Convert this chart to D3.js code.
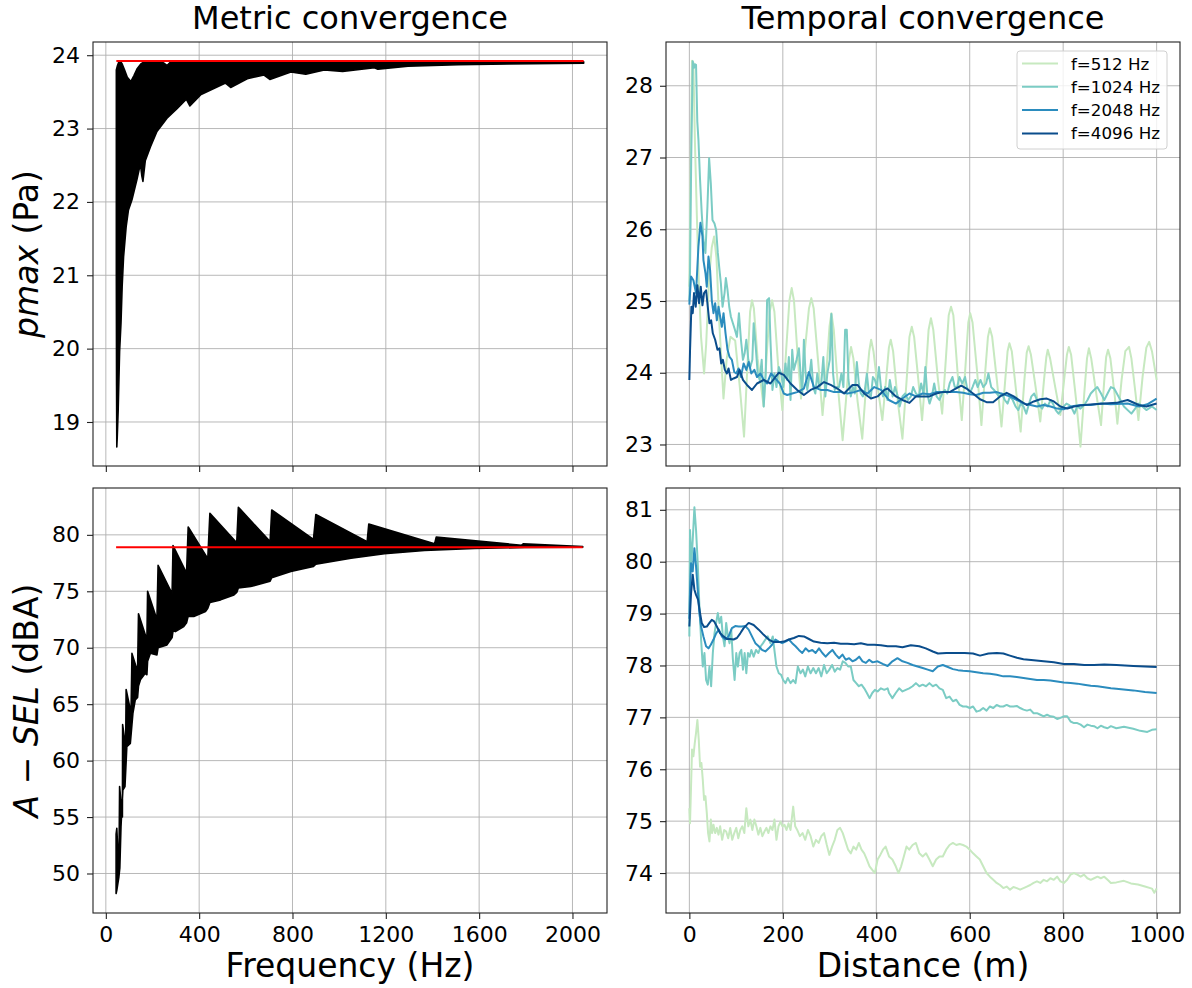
<!DOCTYPE html>
<html>
<head>
<meta charset="utf-8">
<script src="https://cdn.jsdelivr.net/npm/d3@7"></script>
<style>
  body { margin: 0; background: #fff; }
  svg { display: block; }
</style>
</head>
<body>
<script>
// ---- data ----
// left column: the dense oscillating curve, kept as its upper / lower envelope [Hz, value]
const pmaxUpper = [[45,23.80],[50,23.86],[56,23.91],[62,23.92],[70,23.88],[80,23.80],[92,23.70],[107,23.64],[120,23.72],[135,23.82],[150,23.88],[169,23.92],[230,23.92],[250,23.89],[262,23.86],[275,23.90],[300,23.92],[700,23.92],[1400,23.915],[2048,23.91]];
const pmaxLower = [[45,21.0],[46,19.5],[47,18.66],[49,18.8],[53,19.17],[59,19.96],[65,20.35],[70,20.85],[76,21.25],[87,21.66],[97,21.89],[112,22.03],[133,22.30],[148,22.52],[154,22.36],[159,22.28],[169,22.56],[191,22.75],[219,22.96],[262,23.14],[305,23.27],[345,23.40],[360,23.31],[406,23.46],[513,23.62],[535,23.56],[606,23.68],[678,23.73],[703,23.67],[793,23.77],[857,23.74],[936,23.80],[1015,23.78],[1151,23.83],[1166,23.81],[1295,23.85],[1510,23.87],[1725,23.88],[2048,23.89]];
const pmaxTarget = 23.92;

const selUpper = [[44,53.5],[47,54.0],[56,50.0],[59,57.7],[71,55.0],[72,63.2],[85,61.2],[87,66.3],[108,64.2],[112,69.5],[136,67.9],[140,73.0],[176,70.7],[179,75.0],[219,72.5],[224,77.3],[284,74.8],[288,79.05],[346,76.6],[353,80.7],[437,77.9],[446,81.9],[561,79.3],[568,82.45],[704,79.4],[711,82.2],[890,79.6],[900,81.8],[1120,79.4],[1127,80.95],[1409,79.2],[1416,79.8],[1782,79.08],[1789,79.2],[2044,78.97]];
const selLower = [[44,48.23],[47,48.5],[56,49.71],[60,50.5],[65,54.14],[73,57.39],[82,57.69],[90,61.24],[105,61.53],[116,64.19],[126,65.37],[136,65.6],[140,66.6],[148,67.15],[169,67.74],[176,67.6],[179,68.8],[191,69.51],[219,69.36],[224,70.0],[262,70.25],[284,70.9],[288,71.5],[298,71.43],[334,71.87],[346,72.2],[353,72.8],[377,72.76],[427,73.20],[437,73.5],[446,74.0],[492,74.24],[549,74.68],[561,74.9],[568,75.3],[621,75.42],[704,75.9],[711,76.2],[793,76.75],[890,77.2],[900,77.4],[1051,77.93],[1194,78.32],[1366,78.61],[1581,78.79],[1796,78.88],[2044,78.91]];
const selTarget = 78.9;

// right column: [distance m, value]
const freqLabels = ["f=512 Hz", "f=1024 Hz", "f=2048 Hz", "f=4096 Hz"];

const pmax512 = [[0,25.2],[3,27.0],[5.7,28.35],[8.6,28.32],[12,27.2],[16,26.2],[20,25.3],[25,24.5],[31.5,23.99],[36,24.4],[42,25.3],[48,25.75],[53,25.9],[58,25.6],[64,24.7],[73,23.64],[80,24.2],[88,24.5],[98,24.45],[108,23.8],[117,23.11],[125,24.2],[130,24.85],[134,25.01],[138,24.9],[146,24.2],[159,23.53],[166,24.3],[172,24.85],[177,25.01],[182,24.85],[190,24.1],[199,23.48],[207,24.3],[214,25.0],[219,25.18],[224,25.0],[231,24.3],[239,23.64],[247,24.3],[256,24.9],[261,25.04],[266,24.9],[275,24.2],[285,23.41],[293,24.0],[300,24.65],[304,24.83],[309,24.6],[318,23.8],[328,23.06],[335,23.6],[342,24.2],[346,24.36],[351,24.2],[360,23.6],[370,23.08],[378,23.8],[385,24.3],[389,24.46],[394,24.3],[403,23.8],[413,23.34],[421,23.9],[427,24.35],[431,24.46],[436,24.3],[446,23.6],[456,23.08],[465,23.9],[471,24.5],[476,24.64],[481,24.5],[490,23.9],[498,23.34],[506,24.0],[512,24.6],[517,24.76],[522,24.6],[532,23.9],[541,23.43],[549,24.2],[555,24.8],[560,24.92],[565,24.8],[574,24.0],[583,23.34],[591,24.1],[597,24.7],[601,24.83],[606,24.7],[616,24.0],[625,23.27],[633,24.0],[639,24.5],[643,24.62],[648,24.5],[658,23.9],[668,23.25],[676,23.9],[681,24.3],[685,24.41],[690,24.3],[700,23.7],[709,23.18],[717,23.9],[722,24.28],[726,24.37],[731,24.25],[741,23.8],[751,23.32],[759,23.9],[764,24.22],[767,24.32],[772,24.2],[783,23.8],[794,23.41],[802,23.9],[808,24.25],[812,24.36],[817,24.25],[828,23.6],[837,22.97],[845,23.7],[851,24.2],[855,24.34],[860,24.2],[871,23.7],[881,23.27],[888,23.9],[892,24.22],[896,24.32],[901,24.2],[910,23.7],[916,23.29],[925,23.9],[933,24.3],[941,24.36],[946,24.2],[955,23.7],[961,23.34],[970,23.95],[978,24.35],[984,24.43],[990,24.3],[1000,23.9]];

const pmax1024 = [[0,25.0],[1.4,25.4],[4,27.0],[7.2,28.34],[10,28.25],[11.5,28.3],[14.3,28.29],[17,27.5],[19.4,27.25],[22.9,26.69],[26.5,26.22],[30.1,25.85],[34.4,25.67],[38.7,26.32],[42.3,26.99],[45.9,26.64],[49.5,26.13],[53.8,26.08],[57.3,25.99],[60.9,25.67],[64.5,25.43],[67.4,25.25],[71.0,24.92],[75.3,25.11],[78.1,25.32],[81.7,25.15],[85.3,24.92],[88.9,24.78],[93.2,24.69],[97.5,24.60],[101.8,24.50],[106.1,24.83],[110.4,24.46],[114.7,24.18],[118.3,24.27],[121.9,24.46],[126.2,24.18],[130.5,24.08],[134.8,24.18],[137.6,24.69],[141.9,24.37],[146.2,23.99],[150.5,23.90],[154.8,24.18],[159.1,23.53],[163.4,23.99],[166.3,25.01],[170.6,25.04],[173.5,24.46],[177.8,23.76],[182.1,23.99],[186.4,23.80],[191.4,24.08],[196.4,23.99],[200.7,23.80],[205.7,24.13],[209.3,23.90],[212.9,24.22],[216.5,23.62],[220.1,24.32],[223.6,24.04],[229.4,24.18],[234.4,24.34],[238.0,23.99],[241.6,23.71],[245.1,24.46],[248.7,23.99],[252.3,23.76],[256.6,23.94],[260.9,24.18],[265.2,23.80],[269.5,23.71],[273.8,23.99],[278.1,23.80],[282.4,23.85],[286.7,24.22],[291.0,23.67],[295.3,23.99],[300.4,24.18],[303.9,24.82],[307.5,23.99],[311.1,23.76],[315.4,23.80],[320.4,23.80],[325.4,23.99],[329.7,23.80],[333.3,24.60],[336.9,24.60],[340.5,23.90],[345.5,23.67],[349.8,23.80],[354.1,23.71],[358.4,24.15],[362.7,23.85],[367.0,23.71],[371.3,23.67],[375.6,23.76],[379.9,23.99],[384.2,23.71],[388.5,23.67],[392.8,23.94],[397.1,23.90],[401.4,23.80],[405.7,24.08],[410.0,23.80],[414.3,23.67],[419,23.80],[424,23.62],[429,23.90],[435,23.67],[440,23.80],[446,23.67],[450,23.53],[456,23.67],[462,23.71],[468,23.62],[474,23.67],[479,23.80],[485,23.71],[491,23.67],[496,23.85],[501,23.71],[505,24.08],[509,23.71],[514,23.57],[519,23.67],[524,23.85],[529,23.67],[535,23.62],[541,23.71],[547,23.76],[552,23.71],[557,23.85],[563,23.94],[568,23.80],[573,23.80],[578,23.94],[584,23.85],[590,23.94],[594,23.80],[600,23.71],[606,23.80],[612,23.90],[617,23.80],[623,23.90],[629,23.80],[635,23.85],[640,23.99],[646,23.80],[652,23.76],[658,23.71],[663,23.67],[669,23.71],[675,23.62],[681,23.57],[686,23.67],[692,23.62],[698,23.53],[704,23.48],[709,23.57],[715,23.53],[721,23.43],[727,23.57],[732,23.67],[738,23.71],[744,23.62],[750,23.53],[755,23.50],[761,23.57],[767,23.53],[773,23.62],[778,23.57],[784,23.48],[790,23.43],[796,23.48],[801,23.53],[807,23.57],[813,23.55],[819,23.50],[824,23.43],[830,23.53],[837,23.50],[845,23.55],[852,23.62],[859,23.71],[866,23.76],[873,23.80],[881,23.71],[888,23.62],[895,23.71],[902,23.80],[909,23.78],[930,23.53],[946,23.43],[962,23.57],[978,23.48],[990,23.53],[1000,23.48]];

const pmax2048 = [[0,24.95],[3.6,25.34],[8.6,25.29],[14.3,25.11],[19.4,25.76],[23.7,26.09],[28.0,25.90],[30.1,25.57],[34.4,25.39],[37.3,25.20],[40.9,25.62],[44.4,25.43],[48.0,25.01],[51.6,24.83],[55.2,24.97],[58.8,24.73],[62.4,24.92],[65.9,24.78],[69.5,24.64],[73.1,24.83],[77.4,24.55],[81.7,24.32],[86.0,24.22],[91.0,24.18],[96.1,24.01],[100.4,23.99],[105.4,24.06],[110.4,23.94],[116.1,24.13],[121.9,24.04],[126.9,24.15],[132.6,23.99],[139.1,24.04],[144.8,23.94],[152.0,23.99],[159.1,23.90],[166.3,23.85],[174.9,23.99],[184.2,23.92],[193.5,23.85],[202.1,23.71],[209.3,23.69],[220.1,23.71],[230.8,23.73],[245.1,23.78],[255.9,24.01],[266.6,23.80],[281.0,23.76],[295.3,23.76],[309.7,23.73],[324.0,23.73],[338.3,23.71],[352.7,23.73],[367.0,23.76],[381.3,23.71],[395.7,23.80],[410.0,23.76],[427,23.62],[442,23.57],[456,23.64],[471,23.71],[485,23.67],[499,23.71],[514,23.70],[528,23.73],[542,23.73],[557,23.73],[571,23.73],[586,23.72],[600,23.70],[614,23.69],[629,23.72],[643,23.72],[658,23.73],[672,23.70],[686,23.67],[701,23.62],[715,23.57],[730,23.55],[744,23.53],[758,23.55],[773,23.53],[787,23.50],[801,23.49],[816,23.53],[837,23.55],[859,23.55],[881,23.57],[902,23.56],[938,23.57],[962,23.53],[980,23.56],[1000,23.64]];

const pmax4096 = [[0,23.90],[1.4,24.3],[4.3,24.92],[7.2,24.83],[10.0,25.11],[13.6,24.92],[17.2,25.22],[20.8,24.97],[24.4,25.20],[28.0,24.94],[31.5,25.11],[35.8,25.15],[39.4,24.92],[43.0,24.69],[46.6,24.73],[50.2,24.55],[55.2,24.46],[60.2,24.32],[64.5,24.34],[68.1,24.13],[71.7,24.18],[76.0,24.04],[80.3,23.99],[83.9,24.06],[88.9,23.90],[94.6,23.92],[101.8,23.94],[107.5,24.04],[114.7,23.90],[123.3,23.83],[134.0,23.76],[144.8,23.85],[159.1,23.90],[173.5,23.85],[191.4,24.00],[202.1,23.97],[216.5,23.85],[230.8,23.76],[245.1,23.69],[259.5,23.76],[273.8,23.80],[288.2,23.87],[302.5,23.83],[316.8,23.78],[331.2,23.71],[349.1,23.83],[359.8,23.83],[374.2,23.71],[388.5,23.64],[402.8,23.67],[417.2,23.76],[424.3,23.78],[442,23.67],[456,23.62],[471,23.58],[485,23.67],[499,23.67],[514,23.67],[528,23.71],[542,23.73],[557,23.73],[568,23.77],[582,23.82],[593,23.78],[607,23.71],[622,23.63],[636,23.59],[650,23.59],[665,23.67],[679,23.72],[694,23.67],[708,23.61],[722,23.55],[737,23.60],[751,23.63],[765,23.64],[780,23.60],[794,23.53],[809,23.50],[823,23.53],[845,23.55],[866,23.56],[888,23.57],[914,23.58],[938,23.62],[962,23.55],[978,23.53],[1000,23.57]];

const sel512 = [[0,75.25],[1.4,74.96],[3.6,75.67],[5.7,76.38],[8.6,76.25],[11.5,76.50],[14.3,76.70],[17.2,76.95],[20.1,76.57],[22.9,76.05],[25.8,76.12],[28.7,75.80],[31.5,75.41],[34.4,75.48],[37.3,75.16],[40.1,74.77],[43.0,74.61],[45.9,75.03],[48.7,74.77],[51.6,74.93],[55.2,74.77],[58.8,74.87],[62.4,74.74],[65.9,74.90],[70.2,74.64],[74.5,74.83],[78.8,74.80],[83.1,74.67],[87.4,74.87],[91.8,74.64],[96.1,74.77],[100.4,74.87],[104.7,74.67],[109.0,74.83],[113.3,74.90],[117.6,74.77],[121.9,75.25],[126.2,74.90],[130.5,75.03],[134.8,74.83],[139.1,75.03],[143.4,74.90],[147.7,74.74],[152.0,74.87],[156.3,74.71],[160.6,74.80],[164.9,74.87],[169.2,74.77],[173.5,74.90],[177.8,74.83],[182.1,75.03],[186.4,74.64],[190.7,74.90],[195.0,74.99],[199.3,74.90],[203.6,74.93],[207.9,74.83],[212.2,74.96],[216.5,74.83],[222.2,75.28],[226.5,74.90],[230.8,74.83],[236.5,74.71],[242.3,74.77],[248.0,74.64],[253.7,74.83],[259.5,74.71],[265.2,74.51],[270.9,74.64],[276.7,74.58],[282.4,74.71],[288.2,74.77],[293.9,74.55],[299.6,74.35],[305.4,74.51],[311.1,74.64],[316.8,74.83],[322.6,74.87],[328.3,74.77],[334.0,74.61],[339.8,74.45],[345.5,74.38],[351.2,74.51],[357.0,74.45],[362.7,74.58],[368.4,74.45],[374.2,74.38],[379.9,74.26],[385.6,74.13],[391.4,74.06],[397.1,74.00],[402.8,74.26],[408.6,74.35],[414.3,74.45],[420.0,74.51],[427.3,74.32],[434.5,74.26],[441.7,74.13],[447.5,74.00],[453.2,74.13],[459.0,74.32],[464.8,74.51],[470.5,74.45],[477.7,74.54],[484.9,74.58],[492.1,74.38],[499.3,74.32],[506.5,74.38],[513.7,74.26],[520.9,74.13],[528.1,74.26],[535.3,74.32],[542.4,74.32],[549.6,74.45],[556.8,74.54],[564.0,74.58],[571.2,74.54],[578.4,74.56],[585.6,74.54],[592.8,74.51],[600.0,74.45],[607.2,74.38],[614.4,74.32],[621.6,74.26],[628.8,74.13],[636.0,74.00],[643.2,73.93],[650.4,73.87],[657.6,73.81],[664.8,73.77],[671.9,73.71],[679.1,73.74],[686.3,73.68],[693.5,73.73],[700.7,73.71],[707.9,73.68],[715.1,73.71],[722.3,73.74],[729.5,73.77],[736.7,73.81],[743.9,73.84],[751.1,73.81],[758.3,73.87],[765.5,73.84],[772.7,73.90],[779.9,73.87],[787.0,73.93],[794.2,73.84],[801.4,73.81],[808.6,73.87],[815.8,73.97],[823.0,74.00],[830.2,73.97],[837.4,73.93],[844.6,73.97],[851.8,73.90],[859.0,73.87],[866.2,73.90],[873.4,73.93],[880.6,73.90],[887.8,73.93],[895.0,73.87],[902.1,73.81],[913.7,73.82],[930,73.85],[945,73.80],[960,73.78],[975,73.74],[990,73.70],[995,73.62],[1000,73.70]];

const sel1024 = [[0,78.56],[1.4,80.61],[4.3,79.97],[7.2,80.42],[10.8,81.05],[14.3,80.61],[17.9,79.97],[21.5,79.14],[25.1,78.50],[28.7,77.98],[32.3,78.24],[35.8,77.72],[39.4,77.63],[43.0,77.98],[46.6,77.60],[50.2,78.24],[53.8,78.62],[57.3,78.82],[60.9,79.01],[64.5,78.82],[68.1,78.94],[71.7,78.56],[75.3,78.37],[78.8,78.82],[82.4,78.56],[86.0,78.43],[89.6,78.69],[93.2,78.11],[96.8,77.72],[100.4,78.24],[103.9,77.98],[107.5,78.24],[111.1,78.30],[114.7,77.92],[118.3,78.24],[121.9,77.85],[125.4,78.24],[129.0,78.17],[132.6,78.30],[137.6,78.17],[142.6,78.30],[147.7,78.24],[152.7,78.37],[157.7,78.43],[162.7,78.50],[167.7,78.56],[173.5,78.43],[178.5,78.56],[182.8,78.24],[186.4,77.98],[191.4,77.85],[196.4,77.82],[200.7,77.72],[205.7,77.66],[210.7,77.76],[216.5,77.66],[222.2,77.72],[227.2,77.66],[232.2,77.98],[238.0,77.85],[243.0,77.92],[248.0,77.79],[253.7,77.98],[259.5,77.85],[265.2,77.95],[270.9,77.85],[276.7,77.95],[282.4,77.79],[288.2,78.01],[293.9,77.85],[299.6,77.92],[305.4,78.01],[311.1,77.88],[316.8,77.95],[322.6,77.92],[328.3,78.08],[334.0,78.05],[339.8,77.98],[345.5,77.98],[351.2,77.72],[357.0,77.66],[362.7,77.60],[368.4,77.63],[374.2,77.56],[379.9,77.47],[385.6,77.37],[391.4,77.47],[397.1,77.53],[402.8,77.50],[410.0,77.56],[417.2,77.53],[424.3,77.56],[427.3,77.47],[434.5,77.37],[441.7,77.47],[448.9,77.56],[456.1,77.50],[463.3,77.53],[470.5,77.56],[477.7,77.60],[484.9,77.66],[492.1,77.60],[499.3,77.63],[506.5,77.60],[513.7,77.66],[520.9,77.60],[528.1,77.63],[535.3,77.56],[542.4,77.53],[549.6,77.37],[556.8,77.40],[564.0,77.31],[571.2,77.34],[578.4,77.24],[585.6,77.21],[592.8,77.21],[600.0,77.18],[607.2,77.21],[614.4,77.11],[621.6,77.13],[628.8,77.18],[636.0,77.13],[643.2,77.21],[650.4,77.18],[657.6,77.24],[664.8,77.21],[671.9,77.21],[679.1,77.24],[686.3,77.21],[693.5,77.21],[700.7,77.22],[707.9,77.18],[715.1,77.15],[722.3,77.13],[729.5,77.15],[736.7,77.08],[743.9,77.08],[751.1,77.05],[758.3,77.02],[765.5,77.05],[772.7,77.02],[779.9,77.01],[787.0,76.97],[794.2,76.99],[801.4,77.02],[808.6,77.02],[815.8,76.92],[823.0,76.89],[830.2,76.89],[837.4,76.86],[844.6,76.81],[851.8,76.86],[859.0,76.84],[866.2,76.83],[873.4,76.79],[880.6,76.84],[887.8,76.81],[895.0,76.79],[902.1,76.83],[913.7,76.79],[930,76.82],[950,76.78],[965,76.74],[980,76.72],[990,76.76],[1000,76.77]];

const sel2048 = [[0,78.9],[1.4,79.46],[3.6,79.97],[7.2,79.81],[10.8,80.26],[14.3,79.91],[17.9,79.46],[21.5,79.01],[25.1,78.75],[30.1,78.56],[35.8,78.37],[40.9,78.33],[45.9,78.40],[51.6,78.50],[57.3,78.62],[63.1,78.69],[69.5,78.56],[76.7,78.50],[83.9,78.56],[91.0,78.72],[98.2,78.76],[105.4,78.75],[112.5,78.75],[119.7,78.76],[126.9,78.69],[134.0,78.56],[141.2,78.43],[148.4,78.37],[155.5,78.30],[162.7,78.27],[169.9,78.33],[177.0,78.40],[184.2,78.50],[191.4,78.46],[198.6,78.43],[205.7,78.46],[212.9,78.50],[220.1,78.43],[227.2,78.37],[234.4,78.30],[241.6,78.24],[248.7,78.33],[255.9,78.27],[263.1,78.30],[270.2,78.24],[277.4,78.33],[284.6,78.24],[291.7,78.17],[298.9,78.24],[306.1,78.30],[313.2,78.21],[320.4,78.14],[327.6,78.21],[334.7,78.11],[341.9,78.14],[349.1,78.08],[356.2,78.11],[363.4,78.17],[370.6,78.08],[377.8,78.05],[384.9,78.11],[392.1,78.06],[402.8,78.08],[413.6,78.03],[424.3,77.99],[434.5,78.08],[445.3,78.14],[456.1,78.08],[466.9,78.05],[477.7,78.01],[488.5,77.98],[499.3,77.95],[510.1,77.92],[520.9,77.89],[531.7,77.98],[542.4,78.01],[553.2,77.97],[564.0,77.93],[574.8,77.91],[585.6,77.90],[600.0,77.89],[614.4,77.87],[628.8,77.85],[643.2,77.84],[657.6,77.82],[671.9,77.79],[686.3,77.79],[700.7,77.78],[715.1,77.76],[729.5,77.74],[743.9,77.72],[758.3,77.72],[772.7,77.71],[787.0,77.69],[801.4,77.67],[815.8,77.66],[830.2,77.65],[844.6,77.63],[859.0,77.61],[873.4,77.60],[887.8,77.58],[902.1,77.56],[913.7,77.55],[950,77.52],[975,77.49],[1000,77.47]];

const sel4096 = [[0,78.75],[3.6,79.39],[7.2,79.75],[10.8,79.46],[14.3,79.36],[18.6,79.27],[22.9,79.01],[26.5,78.82],[31.5,78.74],[37.3,78.75],[43.0,78.82],[48.0,78.88],[53.0,78.85],[58.8,78.75],[65.9,78.62],[73.1,78.56],[80.3,78.51],[87.4,78.51],[94.6,78.50],[101.8,78.53],[109.0,78.62],[116.1,78.72],[126.9,78.82],[137.6,78.78],[148.4,78.69],[159.1,78.59],[169.9,78.50],[180.6,78.45],[191.4,78.45],[202.1,78.46],[212.9,78.50],[223.6,78.53],[234.4,78.57],[245.1,78.56],[255.9,78.51],[266.6,78.46],[281.0,78.44],[295.3,78.43],[309.7,78.44],[324.0,78.42],[338.3,78.42],[352.7,78.41],[367.0,78.43],[381.3,78.40],[395.7,78.40],[410.0,78.39],[424.3,78.37],[442,78.37],[456,78.35],[474,78.39],[492,78.37],[506,78.33],[521,78.27],[532,78.23],[550,78.24],[571,78.24],[589,78.24],[607,78.23],[622,78.19],[640,78.23],[658,78.24],[672,78.23],[686,78.19],[701,78.15],[715,78.12],[737,78.10],[758,78.08],[780,78.06],[801,78.03],[823,78.03],[845,78.01],[866,78.01],[888,78.02],[914,78.01],[950,77.99],[1000,77.97]];

// tick values
const freqTicks = [0, 400, 800, 1200, 1600, 2000];
const distTicks = [0, 200, 400, 600, 800, 1000];
const pmaxTicks = [19, 20, 21, 22, 23, 24];
const selTicks = [50, 55, 60, 65, 70, 75, 80];
const tPmaxTicks = [23, 24, 25, 26, 27, 28];
const tSelTicks = [74, 75, 76, 77, 78, 79, 80, 81];

const seriesColors = ["#c7e9c0", "#7bccc4", "#2b8cbe", "#0a4d8c"];

// ---- drawing ----
const svg = d3.select("body").append("svg")
    .attr("width", 1192)
    .attr("height", 988)
    .style("font-family", "'DejaVu Sans', sans-serif");

const colL = [93, 607], colR = [666, 1180];
const rowT = [42, 466], rowB = [488, 913];

let clipId = 0;
function makePanel(xr, yr, xDomain, yDomain, xTicks, yTicks, xLabels) {
  const x = d3.scaleLinear().domain(xDomain).range(xr);
  const y = d3.scaleLinear().domain(yDomain).range([yr[1], yr[0]]);
  const g = svg.append("g");
  const id = "clip" + (clipId++);
  g.append("clipPath").attr("id", id).append("rect")
      .attr("x", xr[0]).attr("y", yr[0])
      .attr("width", xr[1] - xr[0]).attr("height", yr[1] - yr[0]);

  // grid
  g.append("g").selectAll("line").data(xTicks).join("line")
      .attr("x1", d => x(d)).attr("x2", d => x(d))
      .attr("y1", yr[0]).attr("y2", yr[1])
      .attr("stroke", "#b0b0b0").attr("stroke-width", 0.9);
  g.append("g").selectAll("line").data(yTicks).join("line")
      .attr("x1", xr[0]).attr("x2", xr[1])
      .attr("y1", d => y(d)).attr("y2", d => y(d))
      .attr("stroke", "#b0b0b0").attr("stroke-width", 0.9);

  const plot = g.append("g").attr("clip-path", `url(#${id})`);

  // axes
  const ax = g.append("g").attr("transform", `translate(0,${yr[1]})`)
      .call(d3.axisBottom(x).tickValues(xTicks).tickSize(6).tickPadding(7)
        .tickFormat(xLabels ? d3.format("d") : ""));
  const ay = g.append("g").attr("transform", `translate(${xr[0]},0)`)
      .call(d3.axisLeft(y).tickValues(yTicks).tickSize(6).tickPadding(7).tickFormat(d3.format("d")));
  [ax, ay].forEach(a => {
    a.select(".domain").remove();
    a.selectAll(".tick line").attr("stroke", "#222").attr("stroke-width", 1.1);
    a.selectAll(".tick text").attr("fill", "#000").style("font-size", "22px")
        .style("font-family", "'DejaVu Sans', sans-serif");
  });

  g.append("rect")
      .attr("x", xr[0]).attr("y", yr[0])
      .attr("width", xr[1] - xr[0]).attr("height", yr[1] - yr[0])
      .attr("fill", "none").attr("stroke", "#222").attr("stroke-width", 1.1);

  return {x, y, plot};
}

function drawBand(p, upper, lower) {
  const line = d3.line().x(d => p.x(d[0])).y(d => p.y(d[1]));
  p.plot.append("path")
      .attr("d", line(upper.concat(lower.slice().reverse())) + "Z")
      .attr("fill", "#000").attr("stroke", "#000")
      .attr("stroke-width", 1.6).attr("stroke-linejoin", "round");
}

function drawTarget(p, f0, f1, v) {
  p.plot.append("line")
      .attr("x1", p.x(f0)).attr("x2", p.x(f1))
      .attr("y1", p.y(v)).attr("y2", p.y(v))
      .attr("stroke", "#ff0000").attr("stroke-width", 2);
}

function drawSeries(p, list) {
  const line = d3.line().x(d => p.x(d[0])).y(d => p.y(d[1]));
  list.forEach((s, i) => {
    p.plot.append("path")
        .attr("d", line(s))
        .attr("fill", "none")
        .attr("stroke", seriesColors[i])
        .attr("stroke-width", 2)
        .attr("stroke-linejoin", "round");
  });
}

// top-left
const pTL = makePanel(colL, rowT, [-55, 2148], [18.40, 24.18], freqTicks, pmaxTicks, false);
drawBand(pTL, pmaxUpper, pmaxLower);
drawTarget(pTL, pmaxUpper[0][0], pmaxUpper[pmaxUpper.length - 1][0], pmaxTarget);

// bottom-left
const pBL = makePanel(colL, rowB, [-55, 2148], [46.5, 84.15], freqTicks, selTicks, true);
drawBand(pBL, selUpper, selLower);
drawTarget(pBL, selUpper[0][0], selUpper[selUpper.length - 1][0], selTarget);

// top-right
const pTR = makePanel(colR, rowT, [-50, 1050], [22.70, 28.61], distTicks, tPmaxTicks, false);
drawSeries(pTR, [pmax512, pmax1024, pmax2048, pmax4096]);

// bottom-right
const pBR = makePanel(colR, rowB, [-50, 1050], [73.23, 81.42], distTicks, tSelTicks, true);
drawSeries(pBR, [sel512, sel1024, sel2048, sel4096]);

// legend
const leg = svg.append("g");
leg.append("rect")
    .attr("x", 1017).attr("y", 51).attr("width", 150).attr("height", 98)
    .attr("rx", 3).attr("fill", "#fff").attr("fill-opacity", 0.8)
    .attr("stroke", "#d0d0d0").attr("stroke-width", 1);
freqLabels.forEach((t, i) => {
  const yy = 63.5 + i * 23.3;
  leg.append("line").attr("x1", 1022).attr("x2", 1058).attr("y1", yy).attr("y2", yy)
      .attr("stroke", seriesColors[i]).attr("stroke-width", 2);
  leg.append("text").attr("x", 1071).attr("y", yy + 6)
      .style("font-size", "16.7px").text(t);
});

// titles
svg.append("text").attr("x", (colL[0] + colL[1]) / 2).attr("y", 29)
    .attr("text-anchor", "middle").style("font-size", "32px").text("Metric convergence");
svg.append("text").attr("x", (colR[0] + colR[1]) / 2).attr("y", 29)
    .attr("text-anchor", "middle").style("font-size", "32px").text("Temporal convergence");

// x labels
svg.append("text").attr("x", (colL[0] + colL[1]) / 2).attr("y", 977)
    .attr("text-anchor", "middle").style("font-size", "33px").text("Frequency (Hz)");
svg.append("text").attr("x", (colR[0] + colR[1]) / 2).attr("y", 977)
    .attr("text-anchor", "middle").style("font-size", "33px").text("Distance (m)");

// y labels
const yl1 = svg.append("text")
    .attr("transform", `translate(38,${(rowT[0] + rowT[1]) / 2}) rotate(-90)`)
    .attr("text-anchor", "middle").style("font-size", "33px");
yl1.append("tspan").style("font-style", "italic").text("pmax");
yl1.append("tspan").text(" (Pa)");

const yl2 = svg.append("text")
    .attr("transform", `translate(38,${(rowB[0] + rowB[1]) / 2}) rotate(-90)`)
    .attr("text-anchor", "middle").style("font-size", "33px");
yl2.append("tspan").style("font-style", "italic").text("A");
yl2.append("tspan").text(" \u2212 ");
yl2.append("tspan").style("font-style", "italic").text("SEL");
yl2.append("tspan").text(" (dBA)");
</script>
</body>
</html>
